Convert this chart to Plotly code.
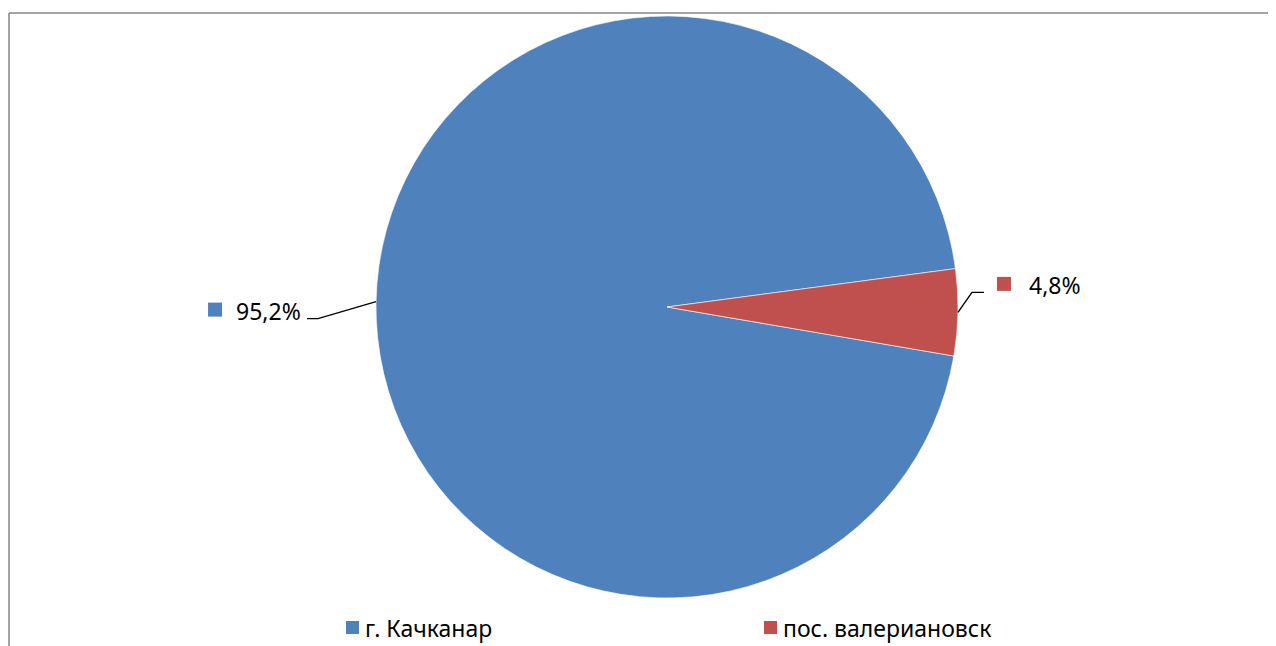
import math
import plotly.graph_objects as go

# ---- data ----
labels = ["г. Качканар", "пос. валериановск"]
values = [95.2, 4.8]
label_texts = ["95,2%", "4,8%"]
colors = ["#4F81BD", "#C0504D"]

# ---- layout constants (pixels, in window coordinates) ----
WIN_W, WIN_H = 1276, 646
OFF = 8  # default page body margin
W, H = WIN_W - OFF, WIN_H - OFF
cx, cy, R = 667, 307, 291
rotation = 99.7
FONT = "Noto Sans"


def px(x):
    return (x - OFF) / W


def py(y):
    return 1 - (y - OFF) / H


fig = go.Figure(
    go.Pie(
        labels=labels,
        values=values,
        sort=False,
        direction="clockwise",
        rotation=rotation,
        marker=dict(colors=colors, line=dict(color="white", width=0.6)),
        textinfo="none",
        hoverinfo="label+percent",
        showlegend=False,
        domain=dict(x=[px(cx - R), px(cx + R)], y=[py(cy + R), py(cy - R)]),
    )
)

shapes = []
annotations = []

# frame (left and top edges visible)
shapes.append(dict(type="line", xref="paper", yref="paper",
                   x0=px(9), y0=py(13), x1=px(9), y1=py(WIN_H + 5),
                   line=dict(color="#868686", width=1.5)))
shapes.append(dict(type="line", xref="paper", yref="paper",
                   x0=px(9), y0=py(13), x1=px(WIN_W + 5), y1=py(13),
                   line=dict(color="#868686", width=1.5)))

# data labels with leader lines, computed from slice mid-angles
total = sum(values)
start = rotation
styles = [
    dict(elbow=(-58, 17), tail=-11, txt_dx=-4, txt_dy=-8, anchor="right", sq_dx=-99, sq_dy=-9),
    dict(elbow=(14, -20), tail=12, txt_dx=43, txt_dy=-7, anchor="left", sq_dx=13, sq_dy=-8.5),
]
for i, v in enumerate(values):
    mid = start + v / total * 180.0
    start += v / total * 360.0
    a = math.radians(mid)
    ax = cx + R * math.sin(a)
    ay = cy - R * math.cos(a)
    st = styles[i]
    ex, ey = ax + st["elbow"][0], ay + st["elbow"][1]
    tx, ty = ex + st["tail"], ey
    shapes.append(dict(type="path", xref="paper", yref="paper",
                       path=f"M {px(ax)} {py(ay)} L {px(ex)} {py(ey)} L {px(tx)} {py(ty)}",
                       line=dict(color="black", width=1.4)))
    sqx = tx + st["sq_dx"]
    sqy = ty + st["sq_dy"]
    shapes.append(dict(type="rect", xref="paper", yref="paper",
                       x0=px(sqx), x1=px(sqx + 14), y0=py(sqy - 7), y1=py(sqy + 7),
                       fillcolor=colors[i], line=dict(width=0)))
    annotations.append(dict(xref="paper", yref="paper", x=px(tx + st["txt_dx"]), y=py(ty + st["txt_dy"]),
                            text=label_texts[i], showarrow=False, xanchor=st["anchor"], yanchor="middle",
                            font=dict(family=FONT, size=23, color="black")))

# legend (manual)
legend_x = [346, 764]
legend_y = 627.5
for i, lab in enumerate(labels):
    lx = legend_x[i]
    shapes.append(dict(type="rect", xref="paper", yref="paper",
                       x0=px(lx), x1=px(lx + 13), y0=py(legend_y - 6.5), y1=py(legend_y + 6.5),
                       fillcolor=colors[i], line=dict(width=0)))
    annotations.append(dict(xref="paper", yref="paper", x=px(lx + 17), y=py(legend_y),
                            text=lab, showarrow=False, xanchor="left", yanchor="middle",
                            font=dict(family=FONT, size=23, color="black")))

fig.update_layout(
    width=W, height=H,
    margin=dict(l=0, r=0, t=0, b=0),
    paper_bgcolor="white",
    plot_bgcolor="white",
    shapes=shapes,
    annotations=annotations,
)

fig.write_html("out.html")
